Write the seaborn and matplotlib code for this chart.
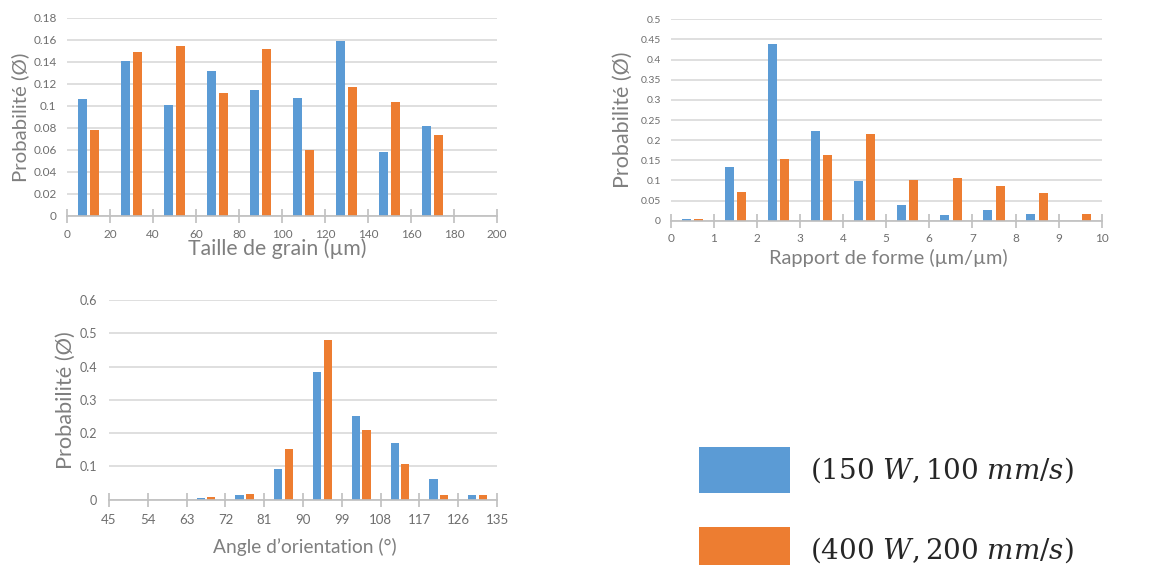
import numpy as np
import pandas as pd
import matplotlib
matplotlib.use("Agg")
import matplotlib.pyplot as plt
import seaborn as sns
from matplotlib.ticker import FuncFormatter

# ---------------- data ----------------
series = ["(150 W, 100 mm/s)", "(400 W, 200 mm/s)"]
legend_labels = [r"$(150\ W, 100\ mm/s)$", r"$(400\ W, 200\ mm/s)$"]
colors = ["#5B9BD5", "#ED7D31"]

grain_bins = [10, 30, 50, 70, 90, 110, 130, 150, 170]
grain_s1 = [0.106, 0.141, 0.101, 0.132, 0.115, 0.107, 0.159, 0.058, 0.082]
grain_s2 = [0.078, 0.149, 0.155, 0.112, 0.152, 0.060, 0.117, 0.104, 0.074]

ratio_bins = [0.5, 1.5, 2.5, 3.5, 4.5, 5.5, 6.5, 7.5, 8.5, 9.5]
ratio_s1 = [0.005, 0.133, 0.439, 0.223, 0.099, 0.038, 0.013, 0.026, 0.017, 0.0]
ratio_s2 = [0.005, 0.071, 0.154, 0.163, 0.216, 0.102, 0.105, 0.086, 0.070, 0.017]

angle_bins = [49.5, 58.5, 67.5, 76.5, 85.5, 94.5, 103.5, 112.5, 121.5, 130.5]
angle_s1 = [0.0, 0.0, 0.004, 0.013, 0.091, 0.384, 0.250, 0.171, 0.063, 0.013]
angle_s2 = [0.0, 0.0, 0.007, 0.018, 0.151, 0.479, 0.208, 0.106, 0.013, 0.013]


def long_df(bins, s1, s2):
    return pd.DataFrame({
        "bin": list(bins) + list(bins),
        "p": list(s1) + list(s2),
        "serie": [series[0]] * len(bins) + [series[1]] * len(bins),
    })


# ---------------- style ----------------
sns.set_theme(style="white")
plt.rcParams["font.family"] = ["Lato", "DejaVu Sans"]
plt.rcParams["mathtext.fontset"] = "dejavuserif"

W, H = 1174, 565
fig = plt.figure(figsize=(W / 100, H / 100), dpi=100)

LABEL_C = "#7F7F7F"
TICK_C = "#6E6E6E"
GRID_C = "#D9D9D9"
AXIS_C = "#BFBFBF"
fmt = FuncFormatter(lambda v, p: f"{v:g}")


def px_axes(x0, x1, y0, y1):
    # y0 top, y1 bottom in pixels
    return fig.add_axes([x0 / W, (H - y1) / H, (x1 - x0) / W, (y1 - y0) / H])


def style(ax, xlim, xticks, ylim, yticks, xlabel, ylabel, fs_xlab, fs_ylab,
          fs_xtick, fs_ytick, ylab_x, xlab_xy, ypad, xpad):
    ax.set_xlim(*xlim)
    ax.set_xticks(xticks)
    ax.set_ylim(*ylim)
    ax.set_yticks(yticks)
    ax.xaxis.set_major_formatter(fmt)
    ax.yaxis.set_major_formatter(fmt)
    ax.grid(axis="y", color=GRID_C, lw=1.2)
    ax.grid(axis="x", visible=False)
    ax.set_axisbelow(True)
    for s in ["top", "right", "left"]:
        ax.spines[s].set_visible(False)
    ax.spines["bottom"].set_color(AXIS_C)
    ax.spines["bottom"].set_linewidth(1.2)
    ax.tick_params(axis="x", direction="inout", length=10, width=1.2, color=AXIS_C,
                   labelcolor=TICK_C, labelsize=fs_xtick, pad=xpad, bottom=True)
    ax.tick_params(axis="y", length=0, labelcolor=TICK_C, labelsize=fs_ytick, pad=ypad)
    ax.set_xlabel(xlabel, fontsize=fs_xlab, color=LABEL_C)
    ax.set_ylabel(ylabel, fontsize=fs_ylab, color=LABEL_C)
    ax.xaxis.label.set_va("center")
    ax.yaxis.label.set_va("center")
    ax.yaxis.set_label_coords(ylab_x, 0.5)
    ax.xaxis.set_label_coords(*xlab_xy)
    leg = ax.get_legend()
    if leg is not None:
        leg.remove()


ylab = "Probabilité (Ø)"

# ---- top-left: grain size ----
ax1 = px_axes(67, 497, 18, 216)
sns.barplot(data=long_df(grain_bins, grain_s1, grain_s2), x="bin", y="p", hue="serie",
            native_scale=True, palette=colors, width=0.56, gap=0.23, ax=ax1,
            errorbar=None, linewidth=0, saturation=1)
handles, _ = ax1.get_legend_handles_labels()
style(ax1, (0, 200), np.arange(0, 201, 20), (0, 0.18), np.arange(0, 0.181, 0.02),
      "Taille de grain (µm)", ylab, 15.3, 14.7, 8.5, 8.5,
      -0.109, (0.488, -0.167), 7.5, 4)

# ---- top-right: aspect ratio ----
ax2 = px_axes(670.7, 1101.7, 19.3, 220.7)
sns.barplot(data=long_df(ratio_bins, ratio_s1, ratio_s2), x="bin", y="p", hue="serie",
            native_scale=True, palette=colors, width=0.58, gap=0.28, ax=ax2,
            errorbar=None, linewidth=0, saturation=1)
style(ax2, (0, 10), np.arange(0, 11, 1), (0, 0.5), np.arange(0, 0.501, 0.05),
      "Rapport de forme (µm/µm)", ylab, 14.4, 15.5, 8.5, 7.5,
      -0.111, (0.504, -0.185), 7, 4)

# ---- bottom: orientation angle ----
ax3 = px_axes(109, 497, 300, 499.7)
sns.barplot(data=long_df(angle_bins, angle_s1, angle_s2), x="bin", y="p", hue="serie",
            native_scale=True, palette=colors, width=0.54, gap=0.22, ax=ax3,
            errorbar=None, linewidth=0, saturation=1)
style(ax3, (45, 135), np.arange(45, 136, 9), (0, 0.6), np.arange(0, 0.601, 0.1),
      "Angle d’orientation (°)", ylab, 13.8, 15.7, 9.5, 9,
      -0.111, (0.505, -0.236), 8.6, 5)

# ---- legend ----
fig.legend(handles, legend_labels, loc="upper left",
           bbox_to_anchor=(699 / W, (H - 447) / H), frameon=False,
           fontsize=20, handlelength=3.27, handleheight=2.17,
           handletextpad=0.72, labelspacing=1.22, borderpad=0, borderaxespad=0)

fig.savefig("out.png", dpi=100)
